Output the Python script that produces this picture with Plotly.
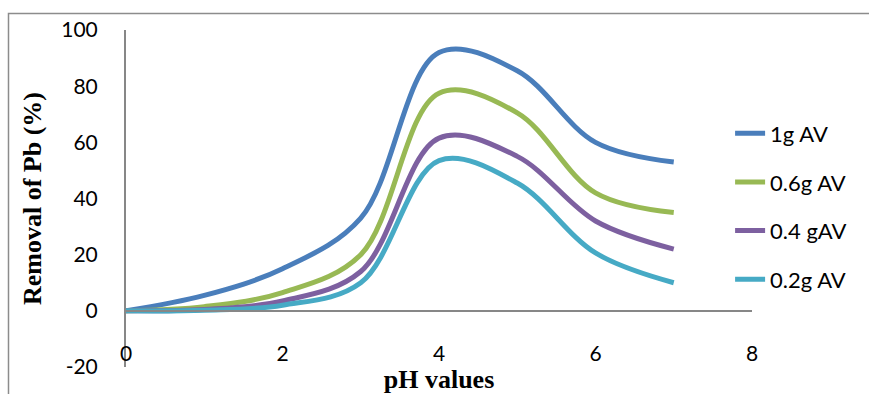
import plotly.graph_objects as go

# ---- data ----
ph = [0, 1, 2, 3, 4, 5, 6, 7]
series_names = ["1g AV", "0.6g AV", "0.4 gAV", "0.2g AV"]
removal_1g = [0, 5.5, 15, 33, 92, 85.5, 60, 53]
removal_06g = [0, 1.5, 6.5, 20, 77.5, 70.5, 42, 35]
removal_04g = [0, 0.5, 3.5, 14, 61.5, 55, 32, 22]
removal_02g = [0, 0.2, 2, 10, 53.5, 45.5, 20.6, 10]
x_tick_vals = [0, 2, 4, 6, 8]
x_tick_labels = ["0", "2", "4", "6", "8"]
y_tick_vals = [-20, 0, 20, 40, 60, 80, 100]
y_tick_labels = ["-20", "0", "20", "40", "60", "80", "100"]

colors = ["#4a7ebb", "#98b954", "#7d60a0", "#46aac5"]
all_series = [removal_1g, removal_06g, removal_04g, removal_02g]

fig = go.Figure()
for name, vals, col in zip(series_names, all_series, colors):
    fig.add_trace(go.Scatter(
        x=ph, y=vals, name=name, mode="lines", legendgroup=name,
        line=dict(color=col, width=5, shape="spline", smoothing=1),
    ))

tick_font = dict(family="Lato, Open Sans, sans-serif", size=21, color="black")
legend_font = dict(family="Lato, Open Sans, sans-serif", size=22, color="black")
axis_col = "#878787"
serif = "Liberation Serif, Times New Roman, serif"

fig.update_layout(
    width=869, height=394,
    margin=dict(l=126, r=117, t=30, b=27, autoexpand=False),
    paper_bgcolor="white", plot_bgcolor="white",
    showlegend=True,
    legend=dict(
        x=0.965, xanchor="left", y=0.755, yanchor="top",
        font=legend_font, traceorder="grouped", tracegroupgap=17,
        bgcolor="rgba(0,0,0,0)",
    ),
    xaxis=dict(
        range=[0, 8], anchor="free", position=20 / 120, automargin=False,
        tickvals=x_tick_vals, ticktext=x_tick_labels,
        ticks="outside", ticklen=24, tickcolor="rgba(0,0,0,0)",
        showgrid=False, zeroline=False,
        showline=True, linecolor=axis_col, linewidth=2,
        tickfont=tick_font,
        title=dict(text="<b>pH values</b>", standoff=9,
                   font=dict(family=serif, size=26, color="black")),
    ),
    yaxis=dict(
        range=[-20, 100], automargin=False,
        tickvals=y_tick_vals, ticktext=y_tick_labels,
        ticks="outside", ticklen=22, tickcolor="rgba(0,0,0,0)",
        showgrid=False, zeroline=False,
        showline=True, linecolor=axis_col, linewidth=2,
        tickfont=tick_font,
        title=dict(text="<b>Removal of Pb (%)</b>", standoff=12,
                   font=dict(family=serif, size=26, color="black")),
    ),
    shapes=[dict(
        type="rect", xref="paper", yref="paper",
        x0=-0.1877, x1=1.4, y0=-0.4, y1=1.049,
        line=dict(color="#8c8c8c", width=1.5), fillcolor="rgba(0,0,0,0)", layer="below",
    )],
)

fig.write_html("out.html")
